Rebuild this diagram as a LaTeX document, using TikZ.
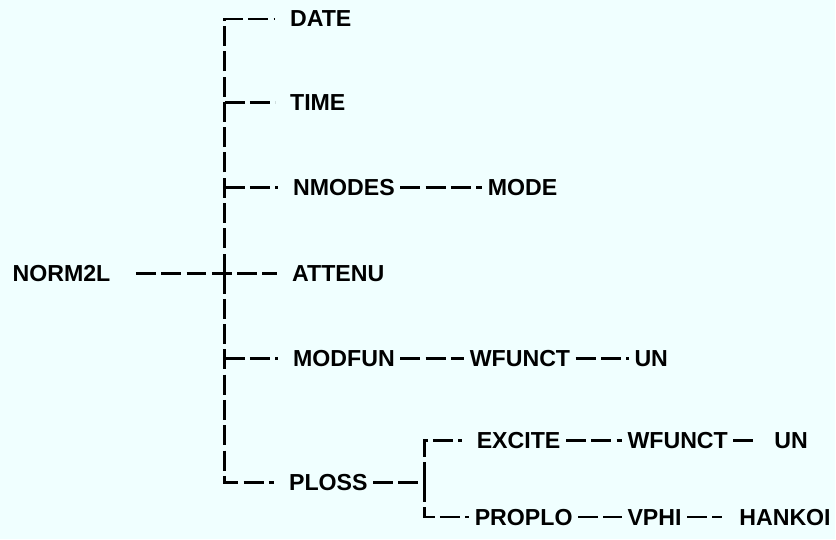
\documentclass[tikz,border=0pt]{standalone}
\usepackage{fontspec}
\setmainfont{Liberation Sans}
\usepackage{tikz}
\usetikzlibrary{arrows.meta,positioning,calc}
\definecolor{paper}{RGB}{240,255,255}

\begin{document}
\begin{tikzpicture}[
  x=0.75pt, y=-0.75pt,
  every node/.style={font=\bfseries\fontsize{17.4}{20}\selectfont, anchor=west, inner sep=4pt},
  link/.style={line width=2pt, dash pattern=on 15pt off 4pt},
  tick/.style={link, shorten >=7pt}
]

\fill[paper] (0,0) rectangle (836,540);

\node (Norm) at (7,274) {NORM2L};
\node (Date) at (285,19) {DATE};
\node (Time) at (285,103) {TIME};
\node (Nmodes) at (288,188) {NMODES};
\node (Mode) at (483,188) {MODE};
\node (Attenu) at (287,274) {ATTENU};
\node (Modfun) at (288,359) {MODFUN};
\node (WfMod) at (465,359) {WFUNCT};
\node (UnMod) at (630,359) {UN};
\node (Ploss) at (284,483) {PLOSS};
\node (Excite) at (472,441) {EXCITE};
\node (WfExc) at (623,441) {WFUNCT};
\node (UnExc) at (770,441) {UN};
\node (Proplo) at (470,518) {PROPLO};
\node (Vphi) at (623,518) {VPHI};
\node (Hankoi) at (735,518) {HANKOI};

\coordinate (Hub) at (225,274);
\coordinate (Fork) at (425,483);

\draw[link, shorten <=15pt, shorten >=7pt] (Norm) -- (Attenu);
\draw[tick] (Hub) |- (Date);
\draw[tick] (Hub) |- (Ploss);
\foreach \n in {Time,Nmodes,Modfun}
  \draw[tick] (Hub |- \n) -- (\n);

\draw[link] (Nmodes) -- (Mode);
\draw[link] (Modfun) -- (WfMod);
\draw[link] (WfMod) -- (UnMod);

\draw[link] (Ploss) -- (Fork);
\draw[tick] (Fork) |- (Excite);
\draw[link] (Fork) |- (Proplo);
\draw[link] (Excite) -- (WfExc);
\draw[link, shorten >=9pt] (WfExc) -- (UnExc);
\draw[link] (Proplo) -- (Vphi);
\draw[link, shorten >=9pt] (Vphi) -- (Hankoi);

\end{tikzpicture}
\end{document}
